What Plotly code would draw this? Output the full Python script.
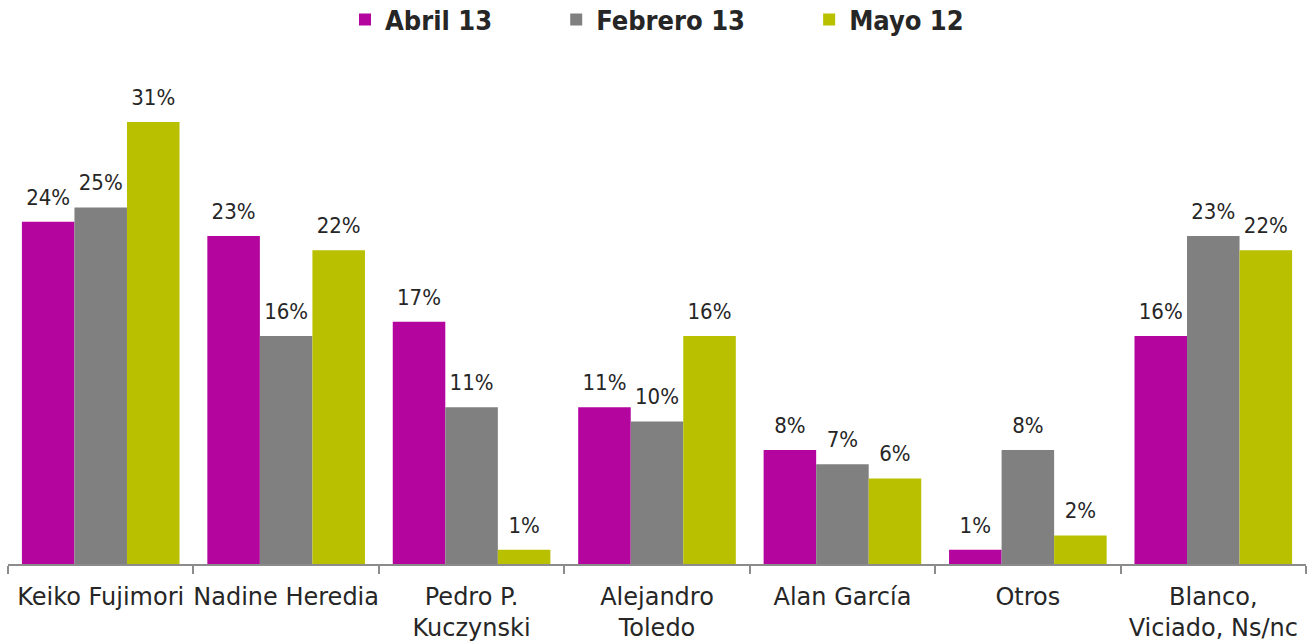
import plotly.graph_objects as go

categories = ["Keiko Fujimori", "Nadine Heredia", "Pedro P.<br>Kuczynski", "Alejandro<br>Toledo",
              "Alan García", "Otros", "Blanco,<br>Viciado, Ns/nc"]
series_names = ["Abril 13", "Febrero 13", "Mayo 12"]
abril13 = [24, 23, 17, 11, 8, 1, 16]
febrero13 = [25, 16, 11, 10, 7, 8, 23]
mayo12 = [31, 22, 1, 16, 6, 2, 22]
colors = ["#B4069F", "#808080", "#B8C000"]

FONT_C = "DejaVu Sans Condensed, DejaVu Sans, sans-serif"
FONT = "DejaVu Sans, sans-serif"
TXT = "#262626"
PAD = "\u00a0" * 7

fig = go.Figure()
for i, (name, vals, col) in enumerate(zip(series_names, [abril13, febrero13, mayo12], colors)):
    fig.add_trace(go.Bar(
        x=categories, y=vals, name=name + (PAD if i < 2 else ""), marker_color=col,
        marker_line_width=0, offsetgroup=str(i), alignmentgroup="g",
    ))
for i, vals in enumerate([abril13, febrero13, mayo12]):
    fig.add_trace(go.Scatter(
        x=categories, y=vals, mode="markers+text", showlegend=False, hoverinfo="skip",
        offsetgroup=str(i), alignmentgroup="g",
        marker=dict(size=17, color="rgba(0,0,0,0)"),
        text=[f"{v}%" for v in vals], textposition="top center", cliponaxis=False,
        textfont=dict(size=22, color=TXT, family=FONT_C),
    ))

fig.update_layout(
    width=1315, height=642,
    margin=dict(l=8, r=9, t=65, b=78, autoexpand=False),
    paper_bgcolor="white", plot_bgcolor="white",
    barmode="group", bargap=0.15, bargroupgap=0,
    scattermode="group", scattergap=0.15,
    font=dict(family=FONT, color=TXT, size=24),
    showlegend=True,
    legend=dict(orientation="h", x=0.5, xanchor="center", yref="container", y=0.969, yanchor="middle",
                font=dict(size=27, family=FONT_C, color=TXT, weight="bold"),
                itemwidth=30, traceorder="normal"),
    xaxis=dict(showline=True, linecolor="#8C8C8C", linewidth=1.5, ticks="outside",
               tickson="boundaries", ticklen=8, tickcolor="#8C8C8C", tickwidth=1.5,
               automargin=False, tickangle=0, ticklabelstandoff=10,
               tickfont=dict(size=24, family=FONT, color=TXT), showgrid=False),
    yaxis=dict(range=[0, 35], visible=False, showgrid=False, automargin=False),
)
fig.write_html("out.html", config={"displayModeBar": False},
               post_script="document.body.style.margin='0px';")
